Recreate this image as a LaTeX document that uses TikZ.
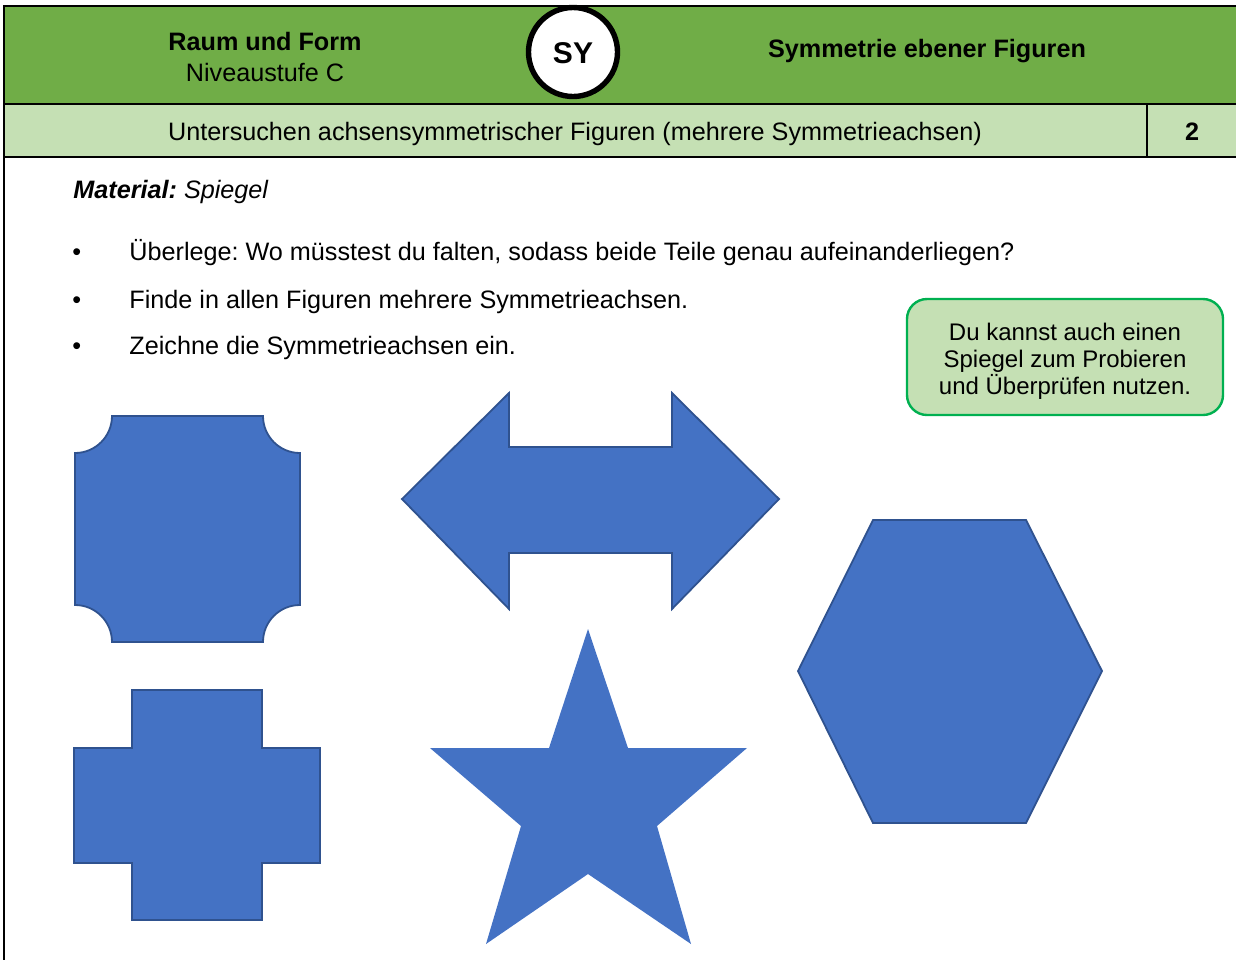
\documentclass[tikz,border=0pt]{standalone}
\usepackage{fontspec}
\setmainfont{Liberation Sans}
\definecolor{hdgreen}{HTML}{70AD47}
\definecolor{lightgreen}{HTML}{C5E0B4}
\definecolor{callgreen}{HTML}{00B050}
\definecolor{shapeblue}{HTML}{4472C4}
\definecolor{shapeedge}{HTML}{2F528F}
\frenchspacing
\begin{document}
\begin{tikzpicture}[x=0.5pt,y=-0.5pt,
  txt/.style={inner sep=0pt, font=\fontsize{12.6}{15}\selectfont},
  btxt/.style={inner sep=0pt, font=\bfseries\fontsize{12.6}{15}\selectfont},
  ctxt/.style={inner sep=0pt, font=\fontsize{12}{13.5}\selectfont},
  rule/.style={line width=1.2pt, black},
  blueshape/.style={fill=shapeblue, draw=shapeedge, line width=0.9pt, line join=miter},
  starshape/.style={fill=shapeblue},
  callbox/.style={draw=callgreen, fill=lightgreen, line width=1.2pt, rounded corners=10pt, minimum width=158pt, minimum height=58pt, inner sep=0pt}
]
\useasboundingbox (0,0) rectangle (1236,960);
% header bands
\fill[hdgreen] (4,6) rectangle (1236,104);
\fill[lightgreen] (4,104) rectangle (1236,157);
\draw[rule] (1236,6) -- (4,6) -- (4,960);
\draw[rule] (4,104) -- (1236,104);
\draw[rule] (4,157) -- (1236,157);
\draw[rule] (1147,104) -- (1147,157);
% header texts
\node[btxt, anchor=base] (raum) at (265,50) {Raum und Form};
\node[txt, anchor=base] (niveau) at (265,81) {Niveaustufe C};
\node[circle, draw, fill=white, line width=2.7pt, minimum size=44.5pt, inner sep=0pt] (sy) at (573,52) {};
\node[inner sep=0pt, anchor=base, font=\bfseries\fontsize{15}{18}\selectfont] (sytxt) at (573,63) {SY};
\node[btxt, anchor=base] (titel) at (927,57) {Symmetrie ebener Figuren};
\node[txt, anchor=base] (unter) at (575,140) {Untersuchen achsensymmetrischer Figuren (mehrere Symmetrieachsen)};
\node[btxt, anchor=base] (nr) at (1192,140) {2};
% material and bullets
\node[txt, anchor=base west] (mat) at (73,198) {\textbf{\textit{Material:}} \textit{Spiegel}};
\node[txt, anchor=base west] (b1) at (72,260) {•};
\node[txt, anchor=base west] (t1) at (129,260) {Überlege: Wo müsstest du falten, sodass beide Teile genau aufeinanderliegen?};
\node[txt, anchor=base west] (b2) at (72,308) {•};
\node[txt, anchor=base west] (t2) at (129,308) {Finde in allen Figuren mehrere Symmetrieachsen.};
\node[txt, anchor=base west] (b3) at (72,354) {•};
\node[txt, anchor=base west] (t3) at (129,354) {Zeichne die Symmetrieachsen ein.};
% callout
\node[callbox] (callout) at (1065,357) {};
\node[ctxt, anchor=base] (c1) at (1065,340) {Du kannst auch einen};
\node[ctxt, anchor=base] (c2) at (1065,367) {Spiegel zum Probieren};
\node[ctxt, anchor=base] (c3) at (1065,394) {und Überprüfen nutzen.};
% square with concave corners
\draw[blueshape] (112,416) -- (263,416) .. controls (263,436.4) and (279.6,453) .. (300,453)
  -- (300,605) .. controls (279.6,605) and (263,621.6) .. (263,642)
  -- (112,642) .. controls (112,621.6) and (95.4,605) .. (75,605)
  -- (75,453) .. controls (95.4,453) and (112,436.4) .. (112,416) -- cycle;
% double arrow
\draw[blueshape] (402,499) -- (509,393) -- (509,447) -- (672,447) -- (672,393) -- (779,499)
  -- (672,609) -- (672,553) -- (509,553) -- (509,609) -- cycle;
% cross
\draw[blueshape] (132,690) -- (262,690) -- (262,748) -- (320,748) -- (320,863) -- (262,863)
  -- (262,920) -- (132,920) -- (132,863) -- (74,863) -- (74,748) -- (132,748) -- cycle;
% star
\fill[starshape] (588,629) -- (628,748) -- (747,748) -- (657,826) -- (691,944) -- (588,874)
  -- (486,944) -- (521,826) -- (430,748) -- (549,748) -- cycle;
% hexagon
\draw[blueshape] (873,520) -- (1026,520) -- (1102,671) -- (1026,823) -- (873,823) -- (798,671) -- cycle;
\end{tikzpicture}
\end{document}
